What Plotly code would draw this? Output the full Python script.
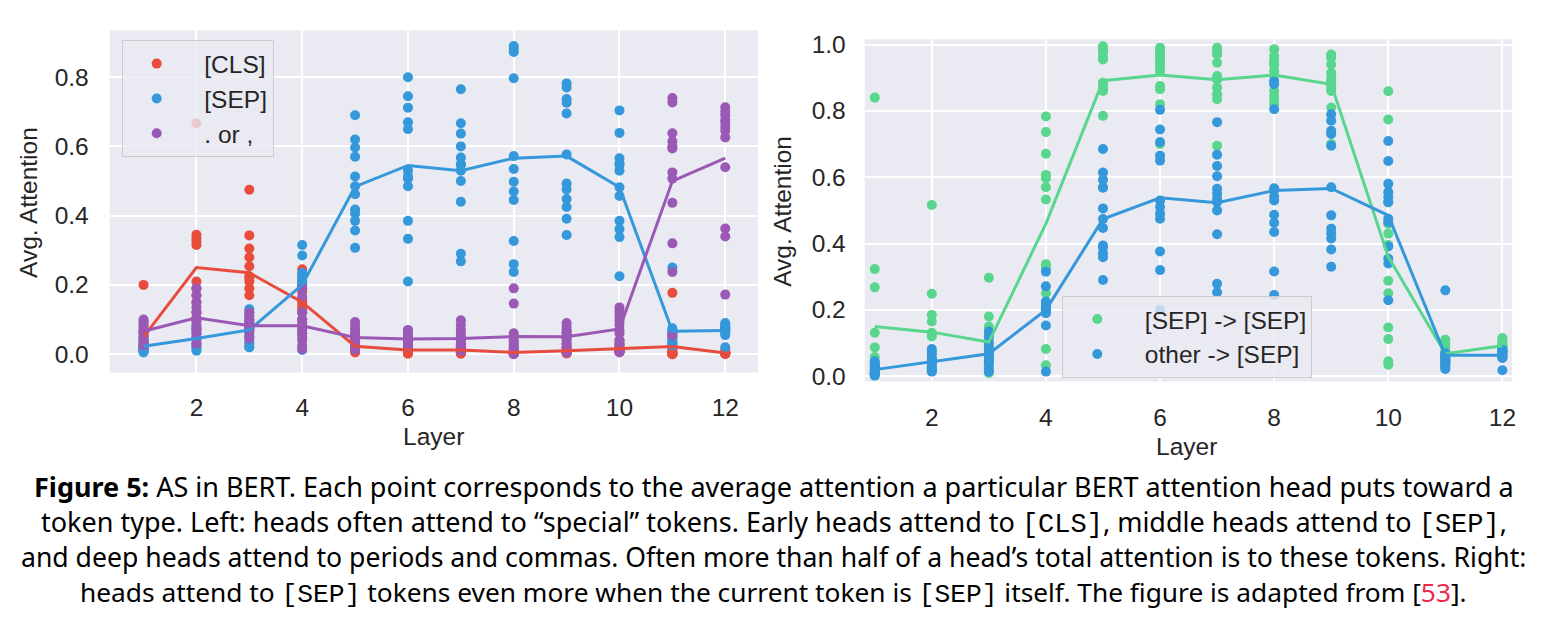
import plotly.graph_objects as go

W, H = 1551, 641

layers = list(range(1, 13))

cls_points = [
    [0.20, 0.07, 0.06, 0.05, 0.04, 0.03, 0.03, 0.02, 0.02, 0.01, 0.01, 0.01],
    [0.667, 0.345, 0.335, 0.325, 0.315, 0.21, 0.19, 0.17, 0.15, 0.12, 0.10, 0.07],
    [0.475, 0.343, 0.305, 0.28, 0.254, 0.225, 0.22, 0.21, 0.19, 0.17, 0.12, 0.03],
    [0.245, 0.23, 0.20, 0.18, 0.16, 0.15, 0.14, 0.13, 0.12, 0.10, 0.08, 0.06],
    [0.05, 0.04, 0.035, 0.03, 0.025, 0.02, 0.02, 0.015, 0.015, 0.01, 0.01, 0.005],
    [0.03, 0.025, 0.02, 0.015, 0.012, 0.01, 0.01, 0.008, 0.005, 0.005, 0.003, 0.001],
    [0.03, 0.025, 0.02, 0.015, 0.012, 0.01, 0.01, 0.008, 0.005, 0.005, 0.003, 0.001],
    [0.015, 0.01, 0.008, 0.006, 0.005, 0.004, 0.003, 0.003, 0.002, 0.002, 0.001, 0.001],
    [0.03, 0.02, 0.015, 0.01, 0.008, 0.007, 0.006, 0.005, 0.004, 0.003, 0.01, 0.002],
    [0.04, 0.03, 0.025, 0.02, 0.015, 0.012, 0.01, 0.01, 0.008, 0.01, 0.006, 0.006],
    [0.177, 0.03, 0.02, 0.015, 0.01, 0.005, 0.002, 0.002, 0.001, 0.001, 0.0, 0.0],
    [0.01, 0.005, 0.005, 0.003, 0.003, 0.002, 0.002, 0.002, 0.001, 0.001, 0.001, 0.001],
]
sep_points = [
    [0.05, 0.04, 0.035, 0.03, 0.025, 0.02, 0.02, 0.015, 0.015, 0.01, 0.01, 0.005],
    [0.10, 0.08, 0.07, 0.06, 0.05, 0.045, 0.04, 0.03, 0.025, 0.02, 0.015, 0.01],
    [0.13, 0.11, 0.10, 0.09, 0.08, 0.075, 0.07, 0.06, 0.05, 0.035, 0.02, 0.02],
    [0.315, 0.285, 0.235, 0.225, 0.215, 0.21, 0.20, 0.19, 0.20, 0.19, 0.12, 0.012],
    [0.69, 0.62, 0.597, 0.57, 0.513, 0.485, 0.462, 0.418, 0.406, 0.385, 0.357, 0.307],
    [0.80, 0.745, 0.712, 0.67, 0.65, 0.53, 0.513, 0.507, 0.485, 0.385, 0.333, 0.21],
    [0.765, 0.667, 0.637, 0.60, 0.568, 0.549, 0.546, 0.53, 0.50, 0.44, 0.29, 0.268],
    [0.89, 0.882, 0.873, 0.797, 0.572, 0.535, 0.498, 0.47, 0.445, 0.327, 0.26, 0.237],
    [0.782, 0.77, 0.737, 0.726, 0.695, 0.577, 0.493, 0.476, 0.448, 0.425, 0.391, 0.344],
    [0.704, 0.639, 0.566, 0.551, 0.546, 0.53, 0.482, 0.457, 0.385, 0.361, 0.338, 0.225],
    [0.25, 0.075, 0.07, 0.065, 0.06, 0.055, 0.05, 0.045, 0.04, 0.035, 0.03, 0.025],
    [0.09, 0.085, 0.08, 0.078, 0.075, 0.072, 0.07, 0.068, 0.065, 0.06, 0.055, 0.02],
]
punct_points = [
    [0.10, 0.095, 0.09, 0.085, 0.08, 0.07, 0.065, 0.06, 0.05, 0.04, 0.03, 0.025],
    [0.19, 0.17, 0.15, 0.135, 0.12, 0.105, 0.095, 0.085, 0.075, 0.06, 0.045, 0.03],
    [0.12, 0.11, 0.10, 0.095, 0.09, 0.085, 0.08, 0.075, 0.07, 0.065, 0.05, 0.045],
    [0.19, 0.165, 0.12, 0.10, 0.09, 0.08, 0.07, 0.06, 0.05, 0.04, 0.025, 0.015],
    [0.093, 0.08, 0.07, 0.06, 0.055, 0.05, 0.045, 0.04, 0.03, 0.025, 0.015, 0.013],
    [0.07, 0.065, 0.06, 0.055, 0.05, 0.045, 0.04, 0.035, 0.035, 0.03, 0.025, 0.02],
    [0.098, 0.085, 0.07, 0.06, 0.05, 0.045, 0.04, 0.03, 0.025, 0.02, 0.015, 0.01],
    [0.19, 0.146, 0.06, 0.05, 0.04, 0.035, 0.03, 0.025, 0.02, 0.015, 0.005, 0.0],
    [0.09, 0.08, 0.07, 0.065, 0.06, 0.055, 0.05, 0.045, 0.04, 0.03, 0.02, 0.005],
    [0.135, 0.125, 0.115, 0.105, 0.095, 0.085, 0.07, 0.06, 0.04, 0.03, 0.015, 0.005],
    [0.74, 0.727, 0.638, 0.615, 0.60, 0.594, 0.525, 0.507, 0.437, 0.32, 0.237, 0.054],
    [0.713, 0.70, 0.69, 0.676, 0.67, 0.657, 0.645, 0.626, 0.54, 0.363, 0.34, 0.172],
]
cls_mean = [0.05, 0.25, 0.235, 0.15, 0.023, 0.012, 0.012, 0.005, 0.01, 0.016, 0.022, 0.003]
sep_mean = [0.023, 0.045, 0.07, 0.20, 0.484, 0.545, 0.53, 0.566, 0.572, 0.482, 0.066, 0.068]
punct_mean = [0.066, 0.105, 0.082, 0.082, 0.048, 0.044, 0.045, 0.051, 0.05, 0.073, 0.50, 0.566]

sepsep_points = [
    [0.84, 0.323, 0.268, 0.131, 0.087, 0.058, 0.03, 0.02, 0.015, 0.012, 0.01, 0.006],
    [0.516, 0.249, 0.185, 0.165, 0.131, 0.12, 0.07, 0.05, 0.04, 0.03, 0.024, 0.02],
    [0.297, 0.18, 0.15, 0.131, 0.111, 0.09, 0.075, 0.065, 0.055, 0.045, 0.027, 0.01],
    [0.783, 0.736, 0.671, 0.607, 0.597, 0.57, 0.533, 0.338, 0.327, 0.25, 0.082, 0.033],
    [0.995, 0.985, 0.98, 0.975, 0.96, 0.955, 0.885, 0.875, 0.865, 0.86, 0.785, 0.57],
    [0.99, 0.98, 0.97, 0.96, 0.95, 0.94, 0.932, 0.918, 0.875, 0.865, 0.82, 0.70],
    [0.99, 0.98, 0.97, 0.945, 0.905, 0.90, 0.895, 0.895, 0.87, 0.85, 0.835, 0.695],
    [0.986, 0.965, 0.95, 0.94, 0.94, 0.939, 0.92, 0.905, 0.86, 0.845, 0.83, 0.82],
    [0.97, 0.965, 0.96, 0.94, 0.915, 0.90, 0.89, 0.88, 0.87, 0.86, 0.81, 0.70],
    [0.859, 0.774, 0.524, 0.46, 0.43, 0.396, 0.288, 0.25, 0.147, 0.112, 0.045, 0.035],
    [0.11, 0.10, 0.09, 0.075, 0.07, 0.065, 0.06, 0.055, 0.05, 0.05, 0.046, 0.045],
    [0.115, 0.11, 0.105, 0.10, 0.095, 0.09, 0.088, 0.085, 0.082, 0.08, 0.078, 0.076],
]
othersep_points = [
    [0.045, 0.04, 0.035, 0.03, 0.025, 0.02, 0.015, 0.01, 0.008, 0.006, 0.004, 0.002],
    [0.082, 0.075, 0.065, 0.055, 0.05, 0.045, 0.04, 0.03, 0.025, 0.02, 0.015, 0.014],
    [0.135, 0.12, 0.10, 0.085, 0.075, 0.07, 0.065, 0.055, 0.045, 0.035, 0.017, 0.014],
    [0.315, 0.271, 0.225, 0.215, 0.21, 0.205, 0.202, 0.20, 0.20, 0.19, 0.153, 0.014],
    [0.685, 0.614, 0.592, 0.568, 0.506, 0.474, 0.447, 0.394, 0.388, 0.371, 0.359, 0.29],
    [0.803, 0.744, 0.706, 0.665, 0.65, 0.53, 0.51, 0.49, 0.475, 0.376, 0.32, 0.20],
    [0.766, 0.668, 0.634, 0.603, 0.565, 0.55, 0.535, 0.525, 0.50, 0.428, 0.279, 0.253],
    [0.89, 0.88, 0.805, 0.567, 0.56, 0.542, 0.53, 0.487, 0.463, 0.435, 0.316, 0.245],
    [0.79, 0.77, 0.74, 0.73, 0.695, 0.57, 0.485, 0.445, 0.43, 0.415, 0.382, 0.33],
    [0.709, 0.649, 0.58, 0.555, 0.54, 0.525, 0.475, 0.465, 0.391, 0.355, 0.34, 0.229],
    [0.259, 0.07, 0.065, 0.06, 0.055, 0.05, 0.045, 0.04, 0.035, 0.03, 0.025, 0.022],
    [0.08, 0.078, 0.075, 0.072, 0.07, 0.067, 0.065, 0.062, 0.058, 0.056, 0.055, 0.018],
]
sepsep_mean = [0.15, 0.133, 0.103, 0.46, 0.891, 0.908, 0.894, 0.908, 0.88, 0.36, 0.068, 0.092]
othersep_mean = [0.02, 0.043, 0.068, 0.20, 0.474, 0.538, 0.523, 0.56, 0.566, 0.485, 0.063, 0.063]

x_ticks = [2, 4, 6, 8, 10, 12]
left_y_ticks = [0.0, 0.2, 0.4, 0.6, 0.8]
right_y_ticks = [0.0, 0.2, 0.4, 0.6, 0.8, 1.0]

RED, BLUE, PURPLE, GREEN = "#E74C3C", "#3498DB", "#9B59B6", "#58D68D"
TXT = "#262626"
SANS = "Liberation Sans, Arial, sans-serif"
FS = 24.5
TICKFONT = dict(family=SANS, size=FS, color=TXT)
MS = 10
LW = 3


def flat(points):
    xs, ys = [], []
    for layer, vals in zip(layers, points):
        for v in vals:
            xs.append(layer)
            ys.append(v)
    return xs, ys


fig = go.Figure()

for name, pts, col, grp in [("[CLS]", cls_points, RED, "a"),
                            ("[SEP]", sep_points, BLUE, "b"),
                            (". or ,", punct_points, PURPLE, "c")]:
    xs, ys = flat(pts)
    fig.add_trace(go.Scatter(x=xs, y=ys, mode="markers", name="  " + name,
                             legendgroup=grp, legend="legend",
                             marker=dict(size=MS, color=col, line=dict(width=0)),
                             xaxis="x", yaxis="y"))
for mean, col in [(cls_mean, RED), (sep_mean, BLUE), (punct_mean, PURPLE)]:
    fig.add_trace(go.Scatter(x=layers, y=mean, mode="lines", showlegend=False,
                             line=dict(color=col, width=LW), xaxis="x", yaxis="y"))

for name, pts, col, grp in [("[SEP] -> [SEP]", sepsep_points, GREEN, "d"),
                            ("other -> [SEP]", othersep_points, BLUE, "e")]:
    xs, ys = flat(pts)
    fig.add_trace(go.Scatter(x=xs, y=ys, mode="markers", name="  " + name,
                             legendgroup=grp, legend="legend2",
                             marker=dict(size=MS, color=col, line=dict(width=0)),
                             xaxis="x2", yaxis="y2"))
for mean, col in [(sepsep_mean, GREEN), (othersep_mean, BLUE)]:
    fig.add_trace(go.Scatter(x=layers, y=mean, mode="lines", showlegend=False,
                             line=dict(color=col, width=LW), xaxis="x2", yaxis="y2"))


def px_x(p):
    return p / W


def px_y(p):
    return 1 - p / H


axis_common = dict(showgrid=True, gridcolor="white", gridwidth=1.8, zeroline=False,
                   showline=False, ticks="", tickfont=TICKFONT, fixedrange=True)

fig.update_layout(
    width=W, height=H,
    margin=dict(l=0, r=0, t=0, b=0),
    paper_bgcolor="white",
    plot_bgcolor="#EAEAF2",
    showlegend=True,
    xaxis=dict(domain=[px_x(110), px_x(760)], range=[0.36, 12.62], tickvals=x_ticks,
               anchor="y", ticklabelstandoff=18, **axis_common),
    yaxis=dict(domain=[px_y(374), px_y(23)], range=[-0.0535, 0.935], tickvals=left_y_ticks,
               tickformat=".1f", anchor="x", ticklabelstandoff=20, **axis_common),
    xaxis2=dict(domain=[px_x(867), px_x(1516)], range=[0.825, 12.17], tickvals=x_ticks,
                anchor="y2", ticklabelstandoff=19, **axis_common),
    yaxis2=dict(domain=[px_y(383), px_y(32)], range=[-0.0156, 1.016], tickvals=right_y_ticks,
                tickformat=".1f", anchor="x2", ticklabelstandoff=18, **axis_common),
    legend=dict(x=px_x(122), y=px_y(33), xanchor="left", yanchor="top",
                bgcolor="rgba(234,234,242,0.8)", bordercolor="#CCCCCC", borderwidth=1,
                font=dict(family=SANS, size=FS, color=TXT), itemwidth=58,
                tracegroupgap=0, itemsizing="trace"),
    legend2=dict(x=px_x(1065), y=px_y(295), xanchor="left", yanchor="top",
                 bgcolor="rgba(234,234,242,0.8)", bordercolor="#CCCCCC", borderwidth=1,
                 font=dict(family=SANS, size=FS, color=TXT), itemwidth=58,
                 tracegroupgap=0, itemsizing="trace"),
)

LBL = dict(family=SANS, size=FS, color=TXT)
ann = [
    dict(text="Avg. Attention", x=px_x(28), y=px_y(199), textangle=-90, font=LBL),
    dict(text="Avg. Attention", x=px_x(785), y=px_y(208), textangle=-90, font=LBL),
    dict(text="Layer", x=px_x(435), y=px_y(439), font=LBL),
    dict(text="Layer", x=px_x(1190), y=px_y(450), font=LBL),
]

MONO = "font-family:'Liberation Mono', monospace"
cap_lines = [
    "<b>Figure 5:</b> AS in BERT. Each point corresponds to the average attention a particular BERT attention head puts toward a",
    f"token type. Left: heads often attend to “special” tokens. Early heads attend to <span style=\"{MONO}\">[CLS]</span>, middle heads attend to <span style=\"{MONO}\">[SEP]</span>,",
    "and deep heads attend to periods and commas. Often more than half of a head’s total attention is to these tokens. Right:",
    f"heads attend to <span style=\"{MONO}\">[SEP]</span> tokens even more when the current token is <span style=\"{MONO}\">[SEP]</span> itself. The figure is adapted from [<span style=\"color:#EE2A4D\">53</span>].",
]
cap_y = [491, 527, 563, 599]
cap_size = [27.0, 27.0, 26.6, 26.3]
for line, yy, fs in zip(cap_lines, cap_y, cap_size):
    ann.append(dict(text=line, x=0.5, y=px_y(yy), borderpad=0,
                    font=dict(family="Noto Sans, sans-serif", size=fs, color="black")))

for a in ann:
    a.update(xref="paper", yref="paper", showarrow=False, xanchor="center", yanchor="middle")
fig.update_layout(annotations=ann)

fig.write_html("out.html")
